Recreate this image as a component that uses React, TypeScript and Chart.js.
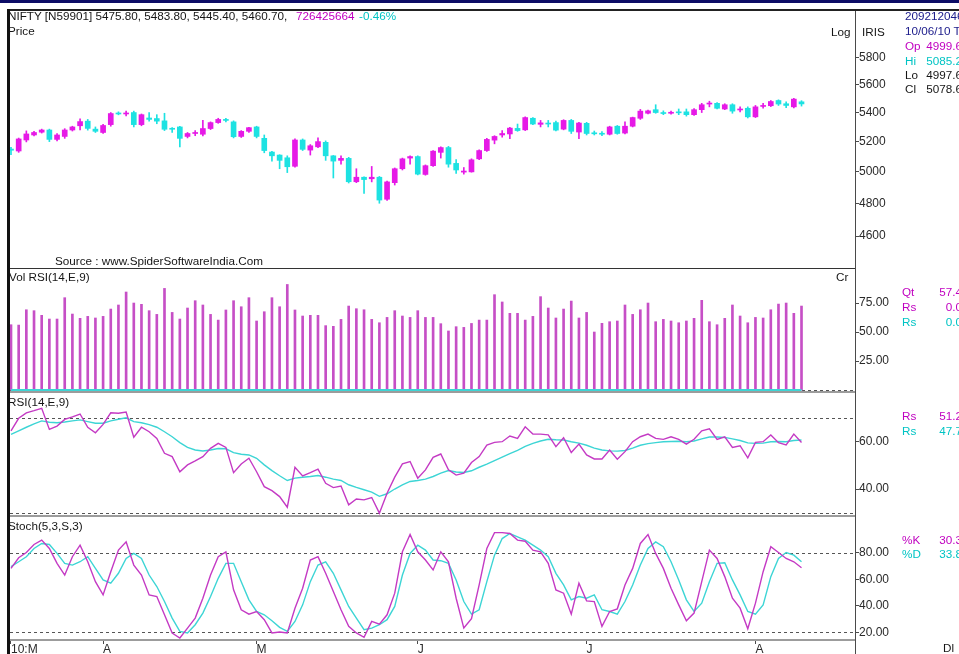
import React, { useEffect, useRef } from 'react';
import { Chart, registerables } from 'chart.js';

Chart.register(...registerables);

// ---------------- data ----------------
const opens = [
  5150, 5137, 5211, 5245, 5264, 5279, 5215, 5235, 5279, 5308,
  5340, 5285, 5262, 5316, 5396, 5390, 5400, 5316, 5362, 5358,
  5342, 5290, 5300, 5235, 5255, 5250, 5289, 5330, 5352, 5335,
  5235, 5270, 5300, 5222, 5130, 5110, 5092, 5036, 5211, 5143,
  5165, 5195, 5105, 5075, 5088, 4936, 4965, 4955, 4965, 4825,
  4930, 5020, 5090, 5100, 4983, 5040, 5128, 5160, 5055, 4998,
  4999.6, 5085, 5140, 5210, 5245, 5252, 5290, 5280, 5360, 5318,
  5325, 5330, 5285, 5345, 5265, 5325, 5260, 5255, 5250, 5305,
  5258, 5305, 5360, 5395, 5420, 5400, 5395, 5403, 5405, 5385,
  5420, 5460, 5465, 5425, 5455, 5418, 5430, 5370, 5443, 5448,
  5485, 5462, 5440, 5475.8,
];
const highs = [
  5162, 5224, 5273, 5270, 5285, 5285, 5255, 5288, 5305, 5356,
  5352, 5300, 5318, 5400, 5405, 5410, 5410, 5390, 5400, 5385,
  5395, 5295, 5305, 5262, 5275, 5345, 5335, 5360, 5360, 5342,
  5275, 5298, 5305, 5245, 5135, 5112, 5105, 5218, 5218, 5180,
  5225, 5205, 5107, 5105, 5095, 5020, 4968, 5035, 4970, 4940,
  5025, 5090, 5105, 5105, 5045, 5140, 5165, 5168, 5080, 5028,
  5085.2, 5145, 5222, 5240, 5275, 5298, 5320, 5370, 5365, 5345,
  5345, 5340, 5350, 5352, 5332, 5332, 5272, 5268, 5305, 5310,
  5335, 5368, 5422, 5418, 5455, 5412, 5410, 5425, 5425, 5428,
  5465, 5480, 5470, 5462, 5462, 5440, 5440, 5450, 5465, 5485,
  5490, 5475, 5500, 5483.8,
];
const lows = [
  5112, 5128, 5198, 5238, 5258, 5200, 5205, 5222, 5272, 5280,
  5278, 5262, 5255, 5305, 5384, 5376, 5300, 5308, 5340, 5322,
  5275, 5262, 5165, 5225, 5240, 5238, 5282, 5325, 5335, 5225,
  5228, 5262, 5225, 5125, 5070, 5020, 4995, 5030, 5140, 5110,
  5160, 5075, 4960, 5050, 4928, 4930, 4862, 4935, 4800, 4818,
  4915, 5012, 5050, 4980, 4978, 5035, 5090, 5030, 4990, 4985,
  4997.6, 5080, 5135, 5185, 5230, 5220, 5270, 5275, 5315, 5300,
  5300, 5272, 5280, 5255, 5220, 5245, 5245, 5240, 5245, 5250,
  5252, 5300, 5352, 5390, 5395, 5385, 5388, 5385, 5375, 5380,
  5400, 5440, 5425, 5420, 5395, 5405, 5362, 5365, 5430, 5442,
  5450, 5435, 5432, 5445.4,
];
const closes = [
  5142, 5218, 5252, 5262, 5279, 5215, 5245, 5279, 5300, 5337,
  5290, 5270, 5310, 5393, 5390, 5395, 5316, 5385, 5352, 5340,
  5284, 5284, 5222, 5255, 5262, 5289, 5330, 5352, 5345, 5233,
  5270, 5295, 5235, 5140, 5105, 5075, 5033, 5211, 5148, 5172,
  5200, 5105, 5070, 5088, 4936, 4965, 4950, 4965, 4820, 4935,
  5020, 5085, 5100, 4985, 5040, 5136, 5160, 5050, 5012, 5005,
  5078.6, 5140, 5215, 5235, 5255, 5292, 5275, 5365, 5320, 5328,
  5320, 5278, 5345, 5270, 5327, 5255, 5253, 5250, 5300, 5255,
  5305, 5365, 5410, 5412, 5400, 5393, 5402, 5398, 5385, 5420,
  5455, 5465, 5430, 5455, 5410, 5424, 5370, 5440, 5450, 5478,
  5460, 5450, 5495, 5460.7,
];
const volumes = [
  56.3, 56, 69.2, 68.4, 64.4, 61.2, 61.2, 79.6, 65.5, 61.8,
  63.5, 62.1, 63.5, 69.8, 73.3, 84.5, 75, 73.9, 68.4, 65.2,
  87.6, 66.9, 61.2, 70.7, 77, 73.3, 65.2, 60.3, 69, 77,
  71.8, 79.6, 59.5, 67.5, 79.6, 71.8, 91, 69, 63.8, 64.4,
  64.4, 55.5, 54.9, 60.9, 72.4, 70.1, 69.2, 60.9, 58, 62.6,
  68.4, 63.8, 62.6, 68.4, 62.6, 62.6, 57.2, 50.9, 54.6, 54,
  57.4, 60.3, 60.3, 82.2, 75.9, 66.1, 66.1, 60.3, 63.5, 80.5,
  70.7, 62.1, 69.8, 76.7, 62.1, 66.9, 50, 57.5, 58.9, 59.5,
  73.3, 65.2, 69.2, 75, 58.9, 60.9, 59.5, 58, 59.5, 61.8,
  77.3, 58.9, 56.3, 61.8, 73.3, 63.8, 58, 62.6, 62.1, 69.2,
  74.1, 75, 66.1, 72.4,
];
const rsi = [
  64.6, 69.9, 72.2, 73.1, 74.1, 65.2, 66.6, 69.4, 70.5, 71.7,
  66.1, 63.8, 67.3, 72.2, 72, 72.5, 61.9, 66.1, 64.2, 61.4,
  55.1, 53.7, 47.3, 50.2, 51.9, 53.7, 57.2, 59.3, 57.6, 46.9,
  50.6, 53, 47.3, 41, 39.3, 36.8, 32.3, 49.2, 45.5, 46.9,
  48.4, 42.4, 40.6, 41.3, 33.3, 35.8, 35.4, 36.4, 29.8, 38.2,
  45, 50.6, 51.6, 44.6, 48.1, 53.4, 54.8, 48.1, 45.9, 46.7,
  51.2, 53.7, 58.6, 59.7, 60, 62.4, 61.4, 66.3, 63.2, 63.2,
  62.9, 57.9, 61.7, 55.4, 59, 54.4, 52.7, 52.7, 56.5, 52.6,
  55.8, 60, 62.1, 63.2, 61.4, 61, 62.1, 61, 59, 61,
  64.6, 65.4, 61, 62.1, 57.6, 58.3, 53.2, 59.7, 60, 62.8,
  59.6, 58.6, 63.2, 59.7,
];
const rsiSignal = [
  63.1, 64.6, 66.1, 67.5, 68.8, 68.2, 68, 68.3, 68.8, 69.2,
  68.5, 67.8, 67.8, 68.8, 69.5, 70.1, 68.5, 68, 67.2, 66.1,
  64.2, 62.1, 59.6, 57.6, 56.5, 56.1, 56.5, 57.1, 57, 55.4,
  54.7, 54.4, 53, 50.2, 47.8, 45.6, 43.6, 44.6, 45, 45.3,
  45.7, 45, 44.2, 43.6, 41.8, 40.7, 39.7, 38.7, 36.9, 38,
  40, 41.8, 43.2, 43.6, 44.2, 45.3, 46.7, 47.8, 47.2, 47,
  47.7, 49.2, 50.5, 52, 53.5, 55, 56.3, 58, 59.3, 60.3,
  61, 60.8, 60.7, 60, 59.4, 58.5, 57.3, 56.5, 56.1, 56,
  56.3, 57.3, 58.5, 59.2, 59.6, 60, 60.1, 60.2, 60, 60.3,
  61.2, 62, 62, 61.8, 61.2, 60.5, 59.5, 59.3, 59.4, 60,
  60.1, 60, 60.5, 60.7,
];
const stochK = [
  68.2, 76.2, 80.2, 86.2, 89.5, 83.2, 72, 63.2, 77, 85.7,
  73.2, 58.2, 48.2, 65.7, 82, 88.2, 70.7, 63.2, 48.2, 47,
  33.2, 19.5, 15.7, 23.2, 30.7, 45.7, 63.2, 77, 80.7, 52,
  37, 33.7, 35.7, 29.5, 19.5, 20.2, 19.5, 38.2, 53.2, 74.5,
  77, 64.5, 50.7, 37, 24.5, 19.5, 16.2, 28.2, 26.2, 33.2,
  49.5, 80.7, 93.7, 80.7, 74.5, 67, 80.7, 73.2, 45.7, 23.2,
  30.3, 55.7, 83.2, 95.2, 95.2, 94.5, 89.5, 88.7, 82, 80.7,
  72, 52, 49.5, 33.7, 57, 43.7, 43.2, 24.5, 35.7, 37.7,
  55.7, 68.2, 87, 93.7, 79.5, 68.2, 53.2, 40.7, 28.7, 34.5,
  58.2, 82, 75.7, 62, 45.7, 38.2, 22.7, 42, 65.7, 84.5,
  80.2, 75.7, 73.2, 68.7,
];
const stochD = [
  69.5, 73.2, 77, 83.2, 87, 86.2, 79.5, 72, 70.7, 73.2,
  77, 68.2, 59.5, 57, 64.5, 75.7, 79.5, 75.7, 63.2, 54.5,
  43.2, 30.7, 20.7, 19.5, 25.7, 34.5, 47, 60.7, 72, 72,
  58.2, 44.5, 35.7, 33.2, 28.7, 23.7, 20.7, 28.2, 40.7, 58.2,
  70.7, 73.2, 64.5, 52, 39.5, 30.7, 22, 23.2, 25.7, 29.5,
  39.5, 63.2, 79.5, 85.7, 82, 74.5, 74, 72, 59.5, 43.2,
  33.8, 37, 58.2, 78.2, 90.7, 94.5, 92, 89.5, 85.7, 82,
  77, 64.5, 55.7, 44.5, 47, 45.7, 48.2, 37, 35.7, 33.7,
  43.2, 55.7, 70.7, 83.2, 88.2, 84.5, 73.2, 59.5, 44.5, 35.7,
  42, 58.2, 72, 72.5, 59.5, 48.2, 35.7, 33.7, 40.7, 62,
  75.7, 80.2, 78.2, 73.2,
];
const monthTickIdx = [0, 12, 32, 53, 75, 97];
const monthTickLabels = ['10:M', 'A', 'M', 'J', 'J', 'A'];
const priceTicks = [4600, 4800, 5000, 5200, 5400, 5600, 5800];
const volTicks = [25, 50, 75];
const volLevels = [0];
const rsiTicks = [40, 60];
const rsiLevels = [70, 30];
const stochTicks = [20, 40, 60, 80];
const stochLevels = [80, 20];

// ---------------- styles ----------------
const FONT = '"Liberation Sans", Arial, Helvetica, sans-serif';
const UP = '#e619e6';
const DOWN = '#1de2e2';
const LINE_M = '#c43ac4';
const LINE_C = '#3dd5d5';
const VOL_C = '#c64fc6';
const AXIS = '#4a4a4a';
const TXT_M = '#c000c0';
const TXT_C = '#00c4c4';
const NAVY = '#1a1a8a';
const X_MIN = -0.13;
const X_MAX = 109.97;
const CANVAS_W = 949;
const AXIS_W = 104;

const refLinePlugin = {
  id: 'refLines',
  beforeDatasetsDraw(chart: any, _args: any, opts: any) {
    const levels: number[] = (opts && opts.levels) || [];
    const { ctx, chartArea } = chart;
    const y = chart.scales.y;
    ctx.save();
    ctx.strokeStyle = '#555';
    ctx.lineWidth = 1;
    ctx.setLineDash([3, 3]);
    levels.forEach((v) => {
      const py = Math.round(y.getPixelForValue(v)) + 0.5;
      ctx.beginPath();
      ctx.moveTo(chartArea.left, py);
      ctx.lineTo(chartArea.right, py);
      ctx.stroke();
    });
    ctx.restore();
  },
};

function yAxis(type: string, min: number, max: number, ticks: number[], fmt: (v: number) => string) {
  return {
    type,
    position: 'right',
    min,
    max,
    bounds: 'data',
    beginAtZero: false,
    afterBuildTicks: (s: any) => {
      s.ticks = ticks.map((v) => ({ value: v }));
    },
    afterFit: (s: any) => {
      s.width = AXIS_W;
      s.paddingTop = 0;
      s.paddingBottom = 0;
    },
    grid: { drawOnChartArea: false, drawTicks: true, tickLength: 4, color: AXIS, lineWidth: 1 },
    border: { display: true, color: AXIS, width: 1 },
    ticks: {
      callback: (v: any) => fmt(Number(v)),
      font: { family: FONT, size: 12 },
      color: '#2a2a2a',
      padding: 0,
      autoSkip: false,
      maxRotation: 0,
    },
  };
}

const hiddenX = { type: 'linear', min: X_MIN, max: X_MAX, offset: false, display: false, bounds: 'data' };

function baseOptions(y: any, levels: number[], x: any = hiddenX) {
  return {
    animation: false,
    responsive: false,
    maintainAspectRatio: false,
    events: [],
    layout: { padding: 0 },
    plugins: {
      legend: { display: false },
      tooltip: { enabled: false },
      refLines: { levels },
    },
    scales: { x, y },
  };
}

function T(props: { x: number; y: number; c?: string; r?: boolean; children: any }) {
  const { x, y, c = '#151515', r, children } = props;
  const style: any = {
    position: 'absolute',
    top: y - 7,
    lineHeight: '14px',
    fontSize: 11.7,
    color: c,
    whiteSpace: 'nowrap',
  };
  if (r) return <div style={{ ...style, left: x - 300, width: 300, textAlign: 'right' }}>{children}</div>;
  return <div style={{ ...style, left: x }}>{children}</div>;
}

function Box(props: { l: number; t: number; w: number; h: number; c: string }) {
  return (
    <div style={{ position: 'absolute', left: props.l, top: props.t, width: props.w, height: props.h, background: props.c }} />
  );
}

export default function App() {
  const priceRef = useRef<HTMLCanvasElement>(null);
  const volRef = useRef<HTMLCanvasElement>(null);
  const rsiRef = useRef<HTMLCanvasElement>(null);
  const stochRef = useRef<HTMLCanvasElement>(null);

  useEffect(() => {
    document.body.style.margin = '0';
    const idx = opens.map((_, i) => i);
    const candleColors = idx.map((i) => (closes[i] >= opens[i] ? UP : DOWN));

    const price = new Chart(priceRef.current as HTMLCanvasElement, {
      type: 'bar',
      data: {
        datasets: [
          {
            data: idx.map((i) => ({ x: i, y: [opens[i], closes[i]] })),
            backgroundColor: candleColors,
            barThickness: 5,
            minBarLength: 1,
            grouped: false,
            order: 1,
          } as any,
          {
            data: idx.map((i) => ({ x: i, y: [lows[i], highs[i]] })),
            backgroundColor: candleColors,
            barThickness: 1,
            grouped: false,
            order: 2,
          } as any,
        ],
      },
      options: baseOptions(
        yAxis('logarithmic', 4413, 6169, priceTicks, (v) => String(v)),
        []
      ) as any,
      plugins: [refLinePlugin],
    });

    const vol = new Chart(volRef.current as HTMLCanvasElement, {
      type: 'bar',
      data: {
        datasets: [
          {
            type: 'line',
            data: [
              { x: 0, y: 0 },
              { x: opens.length - 1, y: 0 },
            ],
            borderColor: LINE_C,
            borderWidth: 2,
            pointRadius: 0,
            order: 0,
          } as any,
          {
            data: idx.map((i) => ({ x: i, y: volumes[i] })),
            backgroundColor: VOL_C,
            barThickness: 2,
            grouped: false,
            order: 1,
          } as any,
        ],
      },
      options: baseOptions(
        yAxis('linear', -1.72, 105.2, volTicks, (v) => v.toFixed(2)),
        volLevels
      ) as any,
      plugins: [refLinePlugin],
    });

    const lineDs = (vals: number[], color: string, order: number) => ({
      data: idx.map((i) => ({ x: i, y: vals[i] })),
      borderColor: color,
      borderWidth: 1.4,
      pointRadius: 0,
      tension: 0,
      fill: false,
      order,
    });

    const rsiChart = new Chart(rsiRef.current as HTMLCanvasElement, {
      type: 'line',
      data: { datasets: [lineDs(rsi, LINE_M, 1), lineDs(rsiSignal, LINE_C, 2)] as any },
      options: baseOptions(
        yAxis('linear', 28.6, 81, rsiTicks, (v) => v.toFixed(2)),
        rsiLevels
      ) as any,
      plugins: [refLinePlugin],
    });

    const xBottom = {
      type: 'linear',
      min: X_MIN,
      max: X_MAX,
      offset: false,
      bounds: 'data',
      position: 'bottom',
      afterBuildTicks: (s: any) => {
        s.ticks = monthTickIdx.map((v) => ({ value: v }));
      },
      afterFit: (s: any) => {
        s.height = 14;
        s.paddingLeft = 0;
        s.paddingRight = 0;
      },
      ticks: {
        callback: (_v: any, i: number) => monthTickLabels[i],
        align: 'start',
        maxRotation: 0,
        minRotation: 0,
        autoSkip: false,
        padding: -2,
        font: { family: FONT, size: 12 },
        color: '#2a2a2a',
      },
      grid: { drawOnChartArea: false, drawTicks: true, tickLength: 4, color: AXIS },
      border: { display: true, color: '#9c9c9c', width: 2 },
    };

    const stoch = new Chart(stochRef.current as HTMLCanvasElement, {
      type: 'line',
      data: { datasets: [lineDs(stochK, LINE_M, 1), lineDs(stochD, LINE_C, 2)] as any },
      options: baseOptions(
        yAxis('linear', 14.2, 107.7, stochTicks, (v) => v.toFixed(2)),
        stochLevels,
        xBottom
      ) as any,
      plugins: [refLinePlugin],
    });

    return () => {
      price.destroy();
      vol.destroy();
      rsiChart.destroy();
      stoch.destroy();
    };
  }, []);

  const cv = (top: number, h: number) => ({
    position: 'absolute' as const,
    left: 10,
    top,
    width: CANVAS_W,
    height: h,
    display: 'block',
  });

  return (
    <div
      style={{
        position: 'fixed',
        left: 0,
        top: 0,
        width: 959,
        height: 654,
        overflow: 'hidden',
        background: '#ffffff',
        fontFamily: FONT,
      }}
    >
      <canvas ref={priceRef} width={CANVAS_W} height={258} style={cv(10, 258)} />
      <canvas ref={volRef} width={CANVAS_W} height={124} style={cv(268, 124)} />
      <canvas ref={rsiRef} width={CANVAS_W} height={124} style={cv(392, 124)} />
      <canvas ref={stochRef} width={CANVAS_W} height={138} style={cv(516, 138)} />

      {/* header */}
      <T x={8} y={16}>NIFTY [N59901] 5475.80, 5483.80, 5445.40, 5460.70,</T>
      <T x={296} y={16} c={TXT_M}>726425664</T>
      <T x={359} y={16} c={TXT_C}>-0.46%</T>
      <T x={8} y={31}>Price</T>
      <T x={831} y={32}>Log</T>
      <T x={862} y={32}>IRIS</T>
      <T x={55} y={261}>Source : www.SpiderSoftwareIndia.Com</T>

      {/* price info column */}
      <T x={905} y={16} c={NAVY}>209212046</T>
      <T x={905} y={31} c={NAVY}>10/06/10 Thu</T>
      <T x={905} y={46} c={TXT_M}>Op</T>
      <T x={962} y={46} c={TXT_M} r>4999.6</T>
      <T x={905} y={61} c={TXT_C}>Hi</T>
      <T x={962} y={61} c={TXT_C} r>5085.2</T>
      <T x={905} y={75}>Lo</T>
      <T x={962} y={75} r>4997.6</T>
      <T x={905} y={89}>Cl</T>
      <T x={962} y={89} r>5078.6</T>

      {/* volume panel */}
      <T x={9} y={277}>Vol RSI(14,E,9)</T>
      <T x={836} y={277}>Cr</T>
      <T x={902} y={292} c={TXT_M}>Qt</T>
      <T x={962} y={292} c={TXT_M} r>57.4</T>
      <T x={902} y={307} c={TXT_M}>Rs</T>
      <T x={962} y={307} c={TXT_M} r>0.0</T>
      <T x={902} y={322} c={TXT_C}>Rs</T>
      <T x={962} y={322} c={TXT_C} r>0.0</T>

      {/* rsi panel */}
      <T x={8} y={402}>RSI(14,E,9)</T>
      <T x={902} y={416} c={TXT_M}>Rs</T>
      <T x={962} y={416} c={TXT_M} r>51.2</T>
      <T x={902} y={431} c={TXT_C}>Rs</T>
      <T x={962} y={431} c={TXT_C} r>47.7</T>

      {/* stoch panel */}
      <T x={8} y={526}>Stoch(5,3,S,3)</T>
      <T x={902} y={540} c={TXT_M}>%K</T>
      <T x={962} y={540} c={TXT_M} r>30.3</T>
      <T x={902} y={554} c={TXT_C}>%D</T>
      <T x={962} y={554} c={TXT_C} r>33.8</T>
      <T x={943} y={648}>Dl</T>

      {/* frame */}
      <Box l={0} t={0} w={959} h={3} c="#0c0c66" />
      <Box l={7} t={9} w={952} h={2} c="#222" />
      <Box l={7} t={9} w={3} h={645} c="#111" />
      <Box l={10} t={268} w={845} h={1} c="#333" />
      <Box l={10} t={391} w={845} h={2} c="#9c9c9c" />
      <Box l={10} t={515} w={845} h={2} c="#9c9c9c" />
      <Box l={855} t={640} w={1} h={14} c={AXIS} />
    </div>
  );
}
